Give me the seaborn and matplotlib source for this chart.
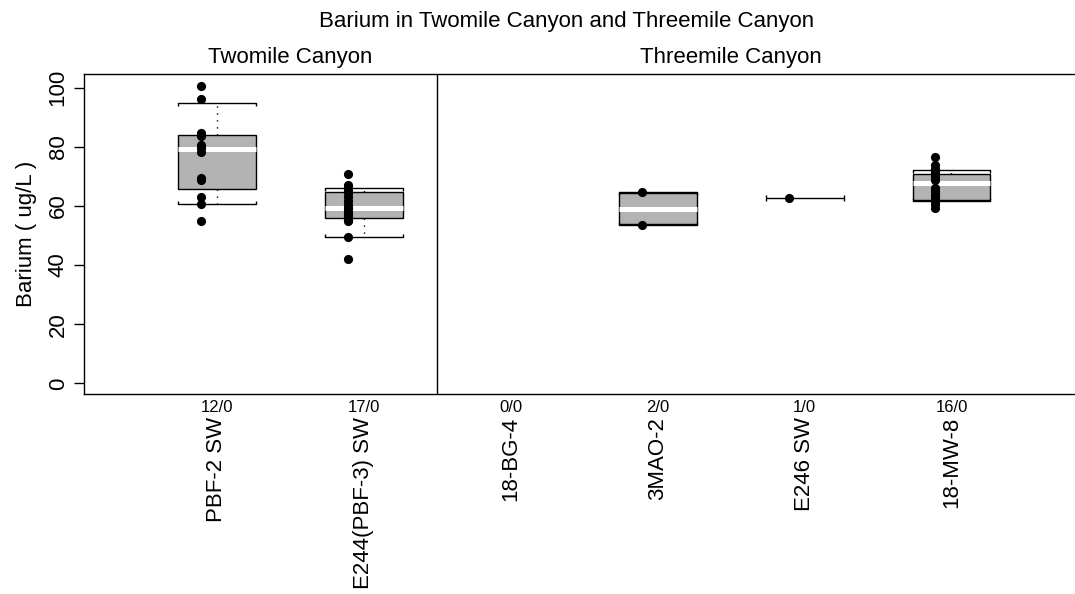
import numpy as np
import pandas as pd
import matplotlib
matplotlib.use("Agg")
import matplotlib.pyplot as plt
import matplotlib.transforms as mtransforms
import seaborn as sns

# ---- data ----
stations = ["PBF-2 SW", "E244(PBF-3) SW", "18-BG-4", "3MAO-2", "E246 SW", "18-MW-8"]
canyons  = ["Twomile Canyon", "Twomile Canyon", "Threemile Canyon",
            "Threemile Canyon", "Threemile Canyon", "Threemile Canyon"]
counts   = ["12/0", "17/0", "0/0", "2/0", "1/0", "16/0"]

pbf2     = [100.4, 96.2, 84.6, 83.8, 80.5, 79.6, 78.2, 69.6, 68.6, 63.0, 60.7, 55.0]
e244     = [70.9, 67.2, 66.2, 65.2, 64.2, 63.0, 61.6, 60.2, 59.3, 58.4, 57.6,
            56.8, 56.0, 55.4, 54.8, 49.5, 42.1]
bg4      = []
mao2     = [64.6, 53.7]
e246     = [62.7]
mw8      = [76.6, 73.8, 72.6, 71.8, 71.0, 70.2, 69.4, 68.6, 66.0, 65.0, 64.0,
            63.0, 62.4, 61.6, 60.6, 59.2]

# box summaries (nan = no box)
q1       = [65.8, 55.9, np.nan, 54.0, np.nan, 62.1]
med      = [79.2, 59.3, np.nan, 59.1, np.nan, 67.7]
q3       = [84.0, 64.7, np.nan, 64.2, np.nan, 70.8]
whis_lo  = [60.8, 49.5, np.nan, 53.7, 62.7, 61.7]
whis_hi  = [94.8, 66.1, np.nan, 64.6, 62.7, 72.2]

yticks   = [0, 20, 40, 60, 80, 100]

samples = [pbf2, e244, bg4, mao2, e246, mw8]
df = pd.DataFrame({
    "station": np.repeat(stations, [len(s) for s in samples]),
    "Barium":  np.concatenate([np.asarray(s, float) for s in samples]),
})

# ---- style ----
sns.set_style("white")
plt.rcParams["font.family"] = ["Liberation Sans", "DejaVu Sans"]
plt.rcParams["font.size"] = 16
for k in ["text.color", "axes.labelcolor", "xtick.color", "ytick.color"]:
    plt.rcParams[k] = "black"

W, H = 1075, 594
fig = plt.figure(figsize=(W / 100, H / 100), dpi=100)
ax = fig.add_axes([84 / W, 1 - 394 / H, 1 - 84 / W, 320 / H])

pos = np.arange(len(stations))
BOXW = 0.53

# points, shifted a little left of the box centre
shift = mtransforms.offset_copy(ax.transData, fig=fig, x=-16, y=0, units="dots")
sns.stripplot(data=df, x="station", y="Barium", order=stations, jitter=False,
              color="black", size=6.6, linewidth=0, ax=ax, transform=shift,
              zorder=4)

# boxes
stats, bpos = [], []
for i in range(len(stations)):
    if np.isnan(q1[i]):
        continue
    stats.append(dict(q1=q1[i], med=med[i], q3=q3[i],
                      whislo=whis_lo[i], whishi=whis_hi[i], fliers=[]))
    bpos.append(pos[i])
ax.bxp(stats, positions=bpos, widths=BOXW, capwidths=BOXW, patch_artist=True,
       showfliers=False,
       boxprops=dict(facecolor="#b3b3b3", edgecolor="black", linewidth=1),
       medianprops=dict(color="white", linewidth=3.6, solid_capstyle="butt"),
       whiskerprops=dict(color="black", linestyle=(0, (1, 4)), linewidth=1),
       capprops=dict(color="black", linewidth=1))

# little end ticks on the caps (and a lone cap for single values)
for i in range(len(stations)):
    if np.isnan(whis_hi[i]):
        continue
    l, r = pos[i] - BOXW / 2, pos[i] + BOXW / 2
    if np.isnan(q1[i]):
        ax.hlines(whis_hi[i], l, r, color="black", lw=1)
        ax.vlines([l, r], whis_hi[i] - 1.0, whis_hi[i] + 1.0, color="black", lw=1)
    else:
        ax.vlines([l, r], whis_hi[i] - 1.0, whis_hi[i], color="black", lw=1)
        ax.vlines([l, r], whis_lo[i], whis_lo[i] + 1.0, color="black", lw=1)

# canyon divider
ax.axvline(1.5, color="black", lw=1)

ax.set_xlim(-0.905, (W - 217) / 146.9)
ax.set_ylim(-3.6, 104.6)
ax.set_yticks(yticks)
ax.set_yticklabels([str(t) for t in yticks], rotation=90, va="center")
ax.tick_params(axis="y", length=7, width=1, color="black", pad=4, direction="out",
               left=True, labelsize=16)
ax.set_xticks(pos)
ax.set_xticklabels(counts, fontsize=12,
                   family=["Liberation Sans Narrow", "Liberation Sans"])
ax.tick_params(axis="x", length=0, pad=4)
ax.set_xlabel("")
ax.set_ylabel("Barium ( ug/L )", fontsize=16, labelpad=8)

for side in ["left", "bottom", "top"]:
    ax.spines[side].set_visible(True)
    ax.spines[side].set_color("black")
    ax.spines[side].set_linewidth(1)
ax.spines["right"].set_visible(False)

# station names under the counts
for i, name in enumerate(stations):
    ax.text(pos[i], -0.072, name, transform=ax.get_xaxis_transform(),
            rotation=90, ha="center", va="top", fontsize=16)

# canyon titles over each group
for c in dict.fromkeys(canyons):
    cx = np.mean([pos[i] for i in range(len(stations)) if canyons[i] == c])
    ax.text(cx, 1.053, c, transform=ax.get_xaxis_transform(),
            ha="center", va="center", fontsize=16)

fig.text(567 / W, 1 - 22 / H, "Barium in Twomile Canyon and Threemile Canyon",
         ha="center", va="center", fontsize=16)

fig.savefig("out.png", dpi=100)
